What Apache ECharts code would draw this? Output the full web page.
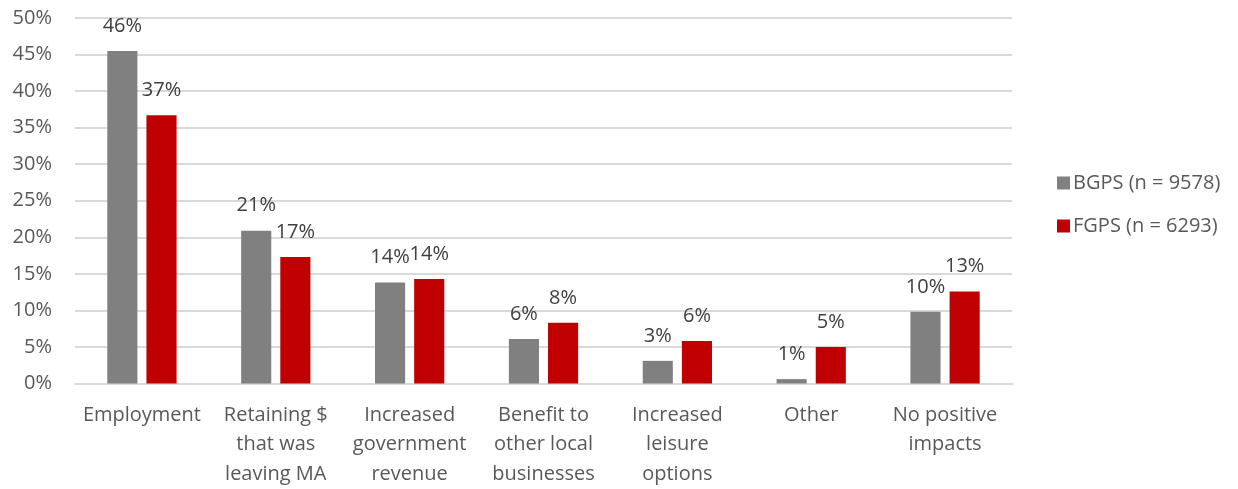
<!DOCTYPE html>
<html>
<head>
<meta charset="utf-8">
<script src="https://cdn.jsdelivr.net/npm/echarts@6/dist/echarts.min.js"></script>
<style>
  html, body { margin: 0; padding: 0; background: #ffffff; }
  #chart { width: 1238px; height: 489px; }
</style>
</head>
<body>
<div id="chart"></div>
<script>
// Positive impacts reported by each survey group (percent of respondents)
var categories = [
  'Employment',
  'Retaining $\nthat was\nleaving MA',
  'Increased\ngovernment\nrevenue',
  'Benefit to\nother local\nbusinesses',
  'Increased\nleisure\noptions',
  'Other',
  'No positive\nimpacts'
];
var seriesNames = ['BGPS (n = 9578)', 'FGPS (n = 6293)'];
var bgpsValues = [45.5, 20.9, 13.8, 6.1, 3.1, 0.6, 9.8];
var fgpsValues = [36.7, 17.3, 14.3, 8.3, 5.8, 5.0, 12.6];
var yTicks = { min: 0, max: 50, interval: 5 };

var FONT = 'Open Sans';
var FS = 20;
var chart = echarts.init(document.getElementById('chart'));

function barSeries(name, values, color) {
  return {
    name: name,
    type: 'bar',
    data: values,
    barWidth: '22.5%',
    barGap: '30%',
    itemStyle: { color: color },
    label: {
      show: true,
      position: 'top',
      distance: 15,
      color: '#404040',
      fontFamily: FONT,
      fontSize: FS,
      formatter: function (p) { return Math.round(p.value) + '%'; }
    }
  };
}

chart.setOption({
  animation: false,
  textStyle: { fontFamily: FONT },
  grid: { left: 75, right: 226, top: 18, bottom: 104, containLabel: false },
  legend: {
    orient: 'vertical',
    left: 1052,
    top: 168,
    itemWidth: 13,
    itemHeight: 13,
    itemGap: 23,
    icon: 'rect',
    textStyle: { color: '#595959', fontFamily: FONT, fontSize: FS, padding: [0, 0, 0, -2] },
    data: seriesNames
  },
  xAxis: {
    type: 'category',
    data: categories,
    axisTick: { show: false },
    axisLine: { lineStyle: { color: '#d9d9d9', width: 2 } },
    axisLabel: {
      color: '#595959',
      fontFamily: FONT,
      fontSize: FS,
      lineHeight: 29.5,
      margin: 17,
      interval: 0
    }
  },
  yAxis: {
    type: 'value',
    min: yTicks.min,
    max: yTicks.max,
    interval: yTicks.interval,
    axisLine: { show: false },
    axisTick: { show: false },
    splitLine: { lineStyle: { color: '#d9d9d9', width: 2 } },
    axisLabel: {
      color: '#595959',
      fontFamily: FONT,
      fontSize: FS,
      margin: 23,
      formatter: '{value}%'
    }
  },
  series: [
    barSeries(seriesNames[0], bgpsValues, '#808080'),
    barSeries(seriesNames[1], fgpsValues, '#C00000')
  ]
});
</script>
</body>
</html>
